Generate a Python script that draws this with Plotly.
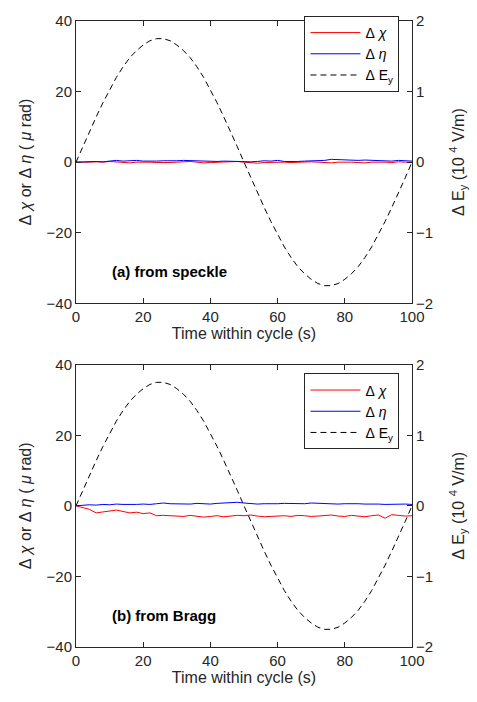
import plotly.graph_objects as go

# ---------------- data ----------------
time_s = [0, 2, 4, 6, 8, 10, 12, 14, 16, 18, 20, 22, 24, 26, 28, 30, 32, 34, 36, 38,
          40, 42, 44, 46, 48, 50, 52, 54, 56, 58, 60, 62, 64, 66, 68, 70, 72, 74, 76, 78,
          80, 82, 84, 86, 88, 90, 92, 94, 96, 98, 100]

# Delta E_y (10^4 V/m)
dEy = [0.00, 0.22, 0.44, 0.64, 0.84, 1.03, 1.20, 1.35, 1.48, 1.58, 1.66, 1.72, 1.75, 1.75,
       1.72, 1.66, 1.58, 1.48, 1.35, 1.20, 1.03, 0.84, 0.64, 0.44, 0.22, 0.00, -0.22, -0.44,
       -0.64, -0.84, -1.03, -1.20, -1.35, -1.48, -1.58, -1.66, -1.72, -1.75, -1.75, -1.72,
       -1.66, -1.58, -1.48, -1.35, -1.20, -1.03, -0.84, -0.64, -0.44, -0.22, 0.00]

# (a) from speckle (micro rad)
chi_a = [0.0, -0.1, 0.0, 0.1, 0.0, 0.2, 0.1, -0.1, -0.2, 0.0, 0.1, 0.0, -0.1, -0.2, -0.1,
         0.0, 0.1, 0.2, 0.0, -0.2, -0.1, 0.0, 0.1, 0.3, 0.2, 0.0, -0.2, -0.3, -0.1, 0.0,
         0.1, 0.0, -0.1, 0.0, 0.2, 0.1, 0.0, -0.1, -0.2, 0.0, 0.1, 0.0, -0.1, -0.2, 0.0,
         0.1, 0.0, -0.1, 0.1, 0.0, 0.0]
eta_a = [0.0, 0.1, 0.1, 0.2, 0.1, 0.3, 0.5, 0.3, 0.4, 0.5, 0.3, 0.2, 0.3, 0.4, 0.3,
         0.4, 0.5, 0.4, 0.3, 0.2, 0.1, 0.2, 0.3, 0.2, 0.1, 0.0, 0.1, 0.2, 0.4, 0.3,
         0.5, 0.2, 0.1, 0.2, 0.3, 0.4, 0.3, 0.5, 0.8, 0.7, 0.6, 0.4, 0.5, 0.6, 0.5,
         0.6, 0.4, 0.3, 0.5, 0.4, 0.3]

# (b) from Bragg (micro rad)
chi_b = [0.0, -0.5, -1.0, -2.0, -1.8, -1.5, -1.2, -1.6, -2.0, -1.8, -2.2, -2.0, -2.8, -2.7,
         -2.8, -2.9, -3.0, -2.7, -2.9, -3.2, -3.0, -2.8, -3.1, -2.9, -2.7, -2.8, -2.6, -2.9,
         -3.1, -3.0, -2.9, -2.8, -3.0, -2.7, -2.8, -3.0, -2.9, -2.7, -2.6, -2.9, -3.0, -2.7,
         -2.9, -3.1, -2.8, -2.6, -3.5, -2.5, -2.7, -2.9, -2.8]
eta_b = [0.0, 0.2, 0.3, 0.2, 0.4, 0.3, 0.5, 0.4, 0.3, 0.4, 0.5, 0.4, 0.6, 0.8, 0.6,
         0.5, 0.6, 0.5, 0.7, 0.6, 0.5, 0.7, 0.8, 0.9, 1.0, 0.8, 0.6, 0.5, 0.6, 0.5,
         0.6, 0.7, 0.6, 0.5, 0.6, 0.8, 0.7, 0.5, 0.4, 0.5, 0.6, 0.7, 0.6, 0.5, 0.6,
         0.5, 0.4, 0.5, 0.6, 0.5, 0.4]

left_ticks = [-40, -20, 0, 20, 40]
right_ticks = [-2, -1, 0, 1, 2]
x_ticks = [0, 20, 40, 60, 80, 100]

# ---------------- figure ----------------
AX = "#262626"
FONT = "Liberation Sans, Arial, Helvetica, sans-serif"
red = "#ff0000"
blue = "#0000ff"
SP = "&nbsp;"

fig = go.Figure()

for (chi, eta, xa, yl, yr, leg) in [
    (chi_a, eta_a, "x", "y", "y2", "legend"),
    (chi_b, eta_b, "x2", "y3", "y4", "legend2"),
]:
    fig.add_trace(go.Scatter(x=time_s, y=chi, mode="lines", name=f"Δ{SP}<i>χ</i>",
                             line=dict(color=red, width=1), xaxis=xa, yaxis=yl, legend=leg))
    fig.add_trace(go.Scatter(x=time_s, y=eta, mode="lines", name=f"Δ{SP}<i>η</i>",
                             line=dict(color=blue, width=1), xaxis=xa, yaxis=yl, legend=leg))
    fig.add_trace(go.Scatter(x=time_s, y=dEy, mode="lines", name=f"Δ{SP}E<sub>y</sub>",
                             line=dict(color="black", width=1, dash="6px,4px"),
                             xaxis=xa, yaxis=yr, legend=leg))

top_dom = [0.549, 1.0]
bot_dom = [0.0, 0.451]

xcommon = dict(range=[0, 100], tickvals=x_ticks, ticks="inside", ticklen=5,
               tickcolor=AX, showline=True, linecolor=AX, linewidth=1, mirror="ticks",
               showgrid=False, zeroline=False,
               tickfont=dict(family=FONT, size=15, color=AX),
               title=dict(text="Time within cycle (s)", standoff=2,
                          font=dict(family=FONT, size=16, color=AX)))
lcommon = dict(range=[-40, 40], tickvals=left_ticks, ticks="inside", ticklen=5,
               tickcolor=AX, showline=True, linecolor=AX, linewidth=1,
               showgrid=False, zeroline=False,
               tickfont=dict(family=FONT, size=15, color=AX),
               title=dict(text=f"Δ{SP}<i>χ</i> or Δ{SP}<i>η</i> ( <i>μ</i> rad)", standoff=10,
                          font=dict(family=FONT, size=16, color=AX)))
rcommon = dict(range=[-2, 2], tickvals=right_ticks, ticks="inside", ticklen=5,
               tickcolor=AX, showline=True, linecolor=AX, linewidth=1, side="right",
               showgrid=False, zeroline=False,
               tickfont=dict(family=FONT, size=15, color=AX),
               title=dict(text=f"Δ{SP}E<sub>y</sub> (10 <sup>4</sup> V/m)", standoff=20,
                          font=dict(family=FONT, size=16, color=AX)))

legcommon = dict(xanchor="left", yanchor="top",
                 bgcolor="white", bordercolor=AX, borderwidth=1,
                 font=dict(family=FONT, size=14, color="black"),
                 itemwidth=50, tracegroupgap=0)

fig.update_layout(
    width=477, height=702,
    margin=dict(l=76, r=65, t=15, b=55),
    paper_bgcolor="white", plot_bgcolor="white",
    showlegend=True,
    xaxis=dict(domain=[0, 1], anchor="y", **xcommon),
    yaxis=dict(domain=top_dom, anchor="x", **lcommon),
    yaxis2=dict(domain=top_dom, anchor="x", overlaying="y", **rcommon),
    xaxis2=dict(domain=[0, 1], anchor="y3", **xcommon),
    yaxis3=dict(domain=bot_dom, anchor="x2", **lcommon),
    yaxis4=dict(domain=bot_dom, anchor="x2", overlaying="y3", **rcommon),
    legend=dict(x=0.68, y=1.008, **legcommon),
    legend2=dict(x=0.68, y=0.437, **legcommon),
    annotations=[
        dict(text="<b>(a) from speckle</b>", x=0.1, y=0.600, xref="paper", yref="paper",
             xanchor="left", yanchor="middle", showarrow=False,
             font=dict(family=FONT, size=15, color="black")),
        dict(text="<b>(b) from Bragg</b>", x=0.1, y=0.051, xref="paper", yref="paper",
             xanchor="left", yanchor="middle", showarrow=False,
             font=dict(family=FONT, size=15, color="black")),
    ],
)

fig.write_html("out.html")
